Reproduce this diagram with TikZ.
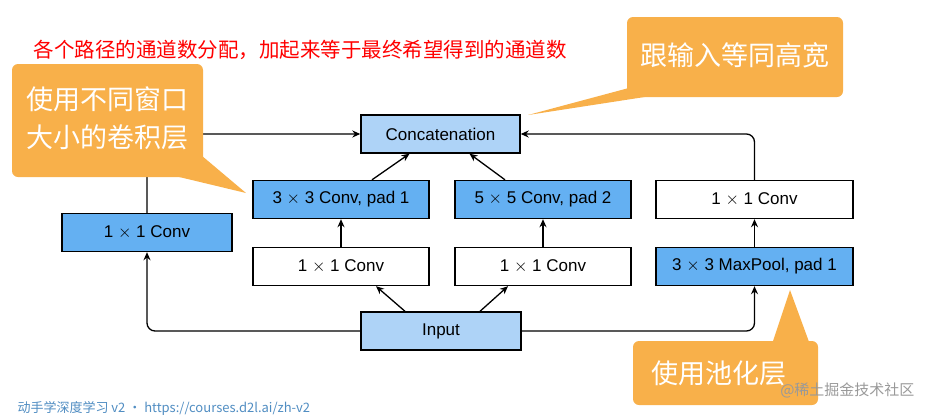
\documentclass[tikz,border=0pt]{standalone}
\usepackage{fontspec}
\setmainfont{Liberation Sans}
\newfontfamily\cjk{Noto Sans CJK SC}
\usetikzlibrary{arrows.meta}
\definecolor{lb}{HTML}{AED3F7}
\definecolor{db}{HTML}{64B0F2}
\definecolor{org}{HTML}{F8B04A}
\tikzset{
  box/.style={draw=black,line width=1.4pt,minimum height=38pt,font=\fontsize{17}{19}\selectfont,inner sep=0pt},
  arr/.style={-{Stealth[length=8pt,width=7pt]},line width=1.3pt,rounded corners=8pt},
  call/.style={fill=org,rounded corners=6pt},
  ctext/.style={text=white,font=\cjk\fontsize{27}{38}\selectfont,align=left}
}
\begin{document}
\begin{tikzpicture}[x=1pt,y=-1pt]
\useasboundingbox (0,0) rectangle (927,416);
\node[box,fill=lb,minimum width=159pt] (cat) at (440.5,134) {Concatenation};
\node[box,fill=db,minimum width=176pt] (c3) at (341,199.5) {3 $\times$ 3 Conv, pad 1};
\node[box,fill=db,minimum width=176pt] (c5) at (543,199.5) {5 $\times$ 5 Conv, pad 2};
\node[box,fill=white,minimum width=197pt] (r1) at (754.5,199.5) {1 $\times$ 1 Conv};
\node[box,fill=db,minimum width=170pt] (l1) at (147,232.5) {1 $\times$ 1 Conv};
\node[box,fill=white,minimum width=176pt] (m1) at (341,266.5) {1 $\times$ 1 Conv};
\node[box,fill=white,minimum width=176pt] (m2) at (543,266.5) {1 $\times$ 1 Conv};
\node[box,fill=db,minimum width=197pt] (mp) at (754.5,266.5) {3 $\times$ 3 MaxPool, pad 1};
\node[box,fill=lb,minimum width=160pt] (in) at (441,331) {Input};
\draw[arr] (in.west) -| (l1.south);
\draw[arr] (l1.north) |- (cat.west);
\draw[arr] (in.east) -| (mp.south);
\draw[arr] (mp.north) -- (r1.south);
\draw[arr] (r1.north) |- (cat.east);
\draw[arr] ([xshift=-36pt]in.north) -- ([xshift=35pt]m1.south);
\draw[arr] ([xshift=39pt]in.north) -- ([xshift=-35pt]m2.south);
\draw[arr] (m1.north) -- (c3.south);
\draw[arr] (m2.north) -- (c5.south);
\draw[arr] ([xshift=31pt]c3.north) -- ([xshift=-31pt]cat.south);
\draw[arr] ([xshift=-38pt]c5.north) -- ([xshift=29pt]cat.south);
% callouts
\fill[org] (150,170) -- (246,193) -- (195,150) -- cycle;
\node[call,minimum width=191pt,minimum height=113pt] (cl) at (107.5,120.5) {};
\node[ctext] (clt) at (107.5,118) {使用不同窗口\\大小的卷积层};
\fill[org] (640,85) -- (528,115) -- (690,90) -- cycle;
\node[call,minimum width=216pt,minimum height=80pt] (cr) at (735,57) {};
\node[ctext] (crt) at (735,55) {跟输入等同高宽};
\fill[org] (770,350) -- (790,290) -- (812,350) -- cycle;
\node[call,minimum width=185pt,minimum height=64pt] (cb) at (725.5,373) {};
\node[ctext] (cbt) at (719,373) {使用池化层};
\node[font=\cjk\fontsize{20.5}{22}\selectfont,text=red,anchor=west] (red) at (30,50) {各个路径的通道数分配，加起来等于最终希望得到的通道数};
\node[font=\cjk\fontsize{15}{17}\selectfont,text=gray!80,anchor=east] (wm) at (918,390) {@稀土掘金技术社区};
\node[font=\cjk\fontsize{13}{15}\selectfont,text=db!80!black,anchor=west] (ft) at (14,408) {动手学深度学习 v2 • https://courses.d2l.ai/zh-v2};
\end{tikzpicture}
\end{document}
